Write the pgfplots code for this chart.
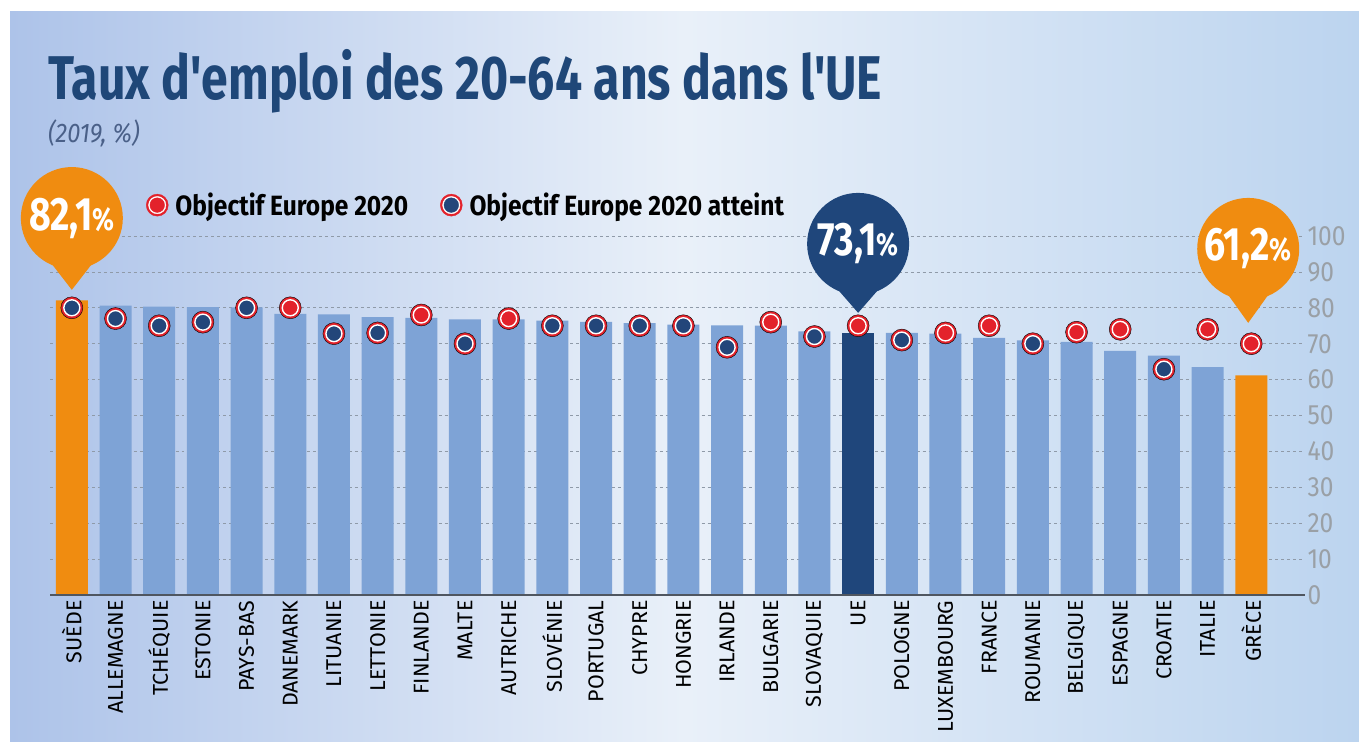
\documentclass[border=0pt]{standalone}
\usepackage{fontspec}
\setmainfont{Fira Sans}
\newfontfamily\titlefont[FakeStretch=0.78]{Fira Sans}
\newfontfamily\cond[FakeStretch=0.80]{Fira Sans}
\newfontfamily\semicond[FakeStretch=0.88]{Fira Sans}
\usepackage{pgfplots}
\pgfplotsset{compat=1.18}
\usepackage{pgfplotstable}

\definecolor{barc}{HTML}{7EA3D6}
\definecolor{orng}{HTML}{F08C10}
\definecolor{uec}{HTML}{1F467B}
\definecolor{mred}{HTML}{E3222B}
\definecolor{mblue}{HTML}{23467A}
\definecolor{ttl}{HTML}{1F4778}
\definecolor{subc}{HTML}{4A6088}
\definecolor{gridc}{HTML}{8F9AA8}
\definecolor{tickc}{HTML}{9AA0A6}
\definecolor{basec}{HTML}{4F5660}
\definecolor{bgl}{HTML}{ADC3E9}
\definecolor{bgm}{HTML}{E9F0F9}
\definecolor{bgr}{HTML}{BCD4EF}

% taux d'emploi 2019
\pgfplotstableread{
x v
1 80.6
2 80.3
3 80.2
4 80.1
5 78.3
6 78.2
7 77.4
8 77.2
9 76.8
10 76.8
11 76.4
12 76.1
13 75.7
14 75.3
15 75.1
16 75.0
17 73.4
19 73.0
20 72.8
21 71.6
22 70.9
23 70.5
24 68.0
25 66.7
26 63.5
}\pays

% objectif non atteint
\pgfplotstableread{
x v
5 80
8 78
10 77
16 76
18 75
20 73
21 75
23 73.2
24 74
26 74
27 70
}\rouge

% objectif atteint
\pgfplotstableread{
x v
0 80
1 77
2 75
3 76
4 80
6 72.8
7 73
9 70
11 75
12 75
13 75
14 75
15 69
17 72
19 71
22 70
25 62.9
}\bleu

\begin{document}
\begin{tikzpicture}
\fill[white] (0,0) rectangle (1359bp,749bp);
\shade[left color=bgl, right color=bgr, middle color=bgm] (10bp,7bp) rectangle (1359bp,737bp);

\node[anchor=base west, inner sep=0pt, text=ttl, font=\titlefont\bfseries\fontsize{62}{62}\selectfont]
  at (48bp,649bp) {Taux d'emploi des 20-64 ans dans l'UE};
\node[anchor=base west, inner sep=0pt, text=subc, font=\semicond\itshape\fontsize{27}{27}\selectfont]
  at (48bp,606bp) {(2019, \%)};

\begin{axis}[
  scale only axis,
  width=1255bp, height=359bp,
  at={(50bp,154bp)}, anchor=south west,
  xmin=-0.5, xmax=28.23, ymin=0, ymax=100,
  clip=false,
  axis line style={draw=none},
  major tick length=0pt,
  ytick={0,10,...,100},
  yticklabel pos=right,
  ymajorgrids,
  grid style={dashed, gridc, line width=0.6bp},
  y tick label style={anchor=west, xshift=-1bp, text=tickc, font=\semicond\fontsize{28}{28}\selectfont},
  /pgf/number format/assume math mode=true,
  xtick={0,...,27},
  xticklabels={SUÈDE,ALLEMAGNE,TCHÉQUIE,ESTONIE,PAYS-BAS,DANEMARK,LITUANIE,LETTONIE,FINLANDE,MALTE,AUTRICHE,SLOVÉNIE,PORTUGAL,CHYPRE,HONGRIE,IRLANDE,BULGARIE,SLOVAQUIE,UE,POLOGNE,LUXEMBOURG,FRANCE,ROUMANIE,BELGIQUE,ESPAGNE,CROATIE,ITALIE,GRÈCE},
  x tick label style={rotate=90, anchor=east, xshift=-2bp, text=black, font=\fontsize{21.5}{21.5}\selectfont},
  legend columns=2,
  legend style={at={(rel axis cs:0.074,1.086)}, anchor=west, draw=none, fill=none,
    font=\semicond\bfseries\fontsize{28}{28}\selectfont,
    /tikz/every odd column/.append style={column sep=5bp},
    /tikz/every even column/.append style={column sep=30bp}},
]
\addplot[ybar, bar width=32bp, fill=barc, draw=none, forget plot] table[x=x, y=v] {\pays};
\addplot[ybar, bar width=32bp, fill=orng, draw=none, forget plot] coordinates {(0,82.1) (27,61.2)};
\addplot[ybar, bar width=32bp, fill=uec, draw=none, forget plot] coordinates {(18,73.1)};

\draw[basec, line width=1.5bp] (axis cs:-0.5,0) -- (axis cs:28.23,0);

\addplot[only marks, mark=*, mark size=11bp, mark options={fill=mred, draw=none}, forget plot] table[x=x, y=v] {\rouge};
\addplot[only marks, mark=*, mark size=8bp, mark options={fill=mred, draw=white, line width=1.4bp},
  legend image code/.code={\fill[mred] (11bp,0bp) circle (11bp); \fill[white] (11bp,0bp) circle (8.7bp); \fill[mred] (11bp,0bp) circle (7.3bp);}]
  table[x=x, y=v] {\rouge};
\addlegendentry{Objectif Europe 2020}
\addplot[only marks, mark=*, mark size=11bp, mark options={fill=mred, draw=none}, forget plot] table[x=x, y=v] {\bleu};
\addplot[only marks, mark=*, mark size=8bp, mark options={fill=mblue, draw=white, line width=1.4bp},
  legend image code/.code={\fill[mred] (11bp,0bp) circle (11bp); \fill[white] (11bp,0bp) circle (8.7bp); \fill[mblue] (11bp,0bp) circle (7.3bp);}]
  table[x=x, y=v] {\bleu};
\addlegendentry{Objectif Europe 2020 atteint}

% bulles
\fill[orng] (axis cs:0,105) circle (51bp);
\fill[orng] ([shift={(-20bp,-46bp)}]axis cs:0,105) -- (axis cs:0,85) -- ([shift={(20bp,-46bp)}]axis cs:0,105) -- cycle;
\node[text=white, font=\cond\bfseries\fontsize{47}{47}\selectfont] at (axis cs:0,105) {82,1{\fontsize{32}{32}\selectfont\%}};

\fill[uec] (axis cs:18,97.8) circle (51bp);
\fill[uec] ([shift={(-20bp,-46bp)}]axis cs:18,97.8) -- (axis cs:18,78.6) -- ([shift={(20bp,-46bp)}]axis cs:18,97.8) -- cycle;
\node[text=white, font=\cond\bfseries\fontsize{47}{47}\selectfont] at (axis cs:18,97.8) {73,1{\fontsize{32}{32}\selectfont\%}};

\fill[orng] (axis cs:26.93,96.4) circle (51bp);
\fill[orng] ([shift={(-20bp,-46bp)}]axis cs:26.93,96.4) -- (axis cs:26.93,75.8) -- ([shift={(20bp,-46bp)}]axis cs:26.93,96.4) -- cycle;
\node[text=white, font=\cond\bfseries\fontsize{47}{47}\selectfont] at (axis cs:26.93,96.4) {61,2{\fontsize{32}{32}\selectfont\%}};
\end{axis}
\pgfresetboundingbox
\useasboundingbox (0,0) rectangle (1359bp,749bp);
\end{tikzpicture}
\end{document}
